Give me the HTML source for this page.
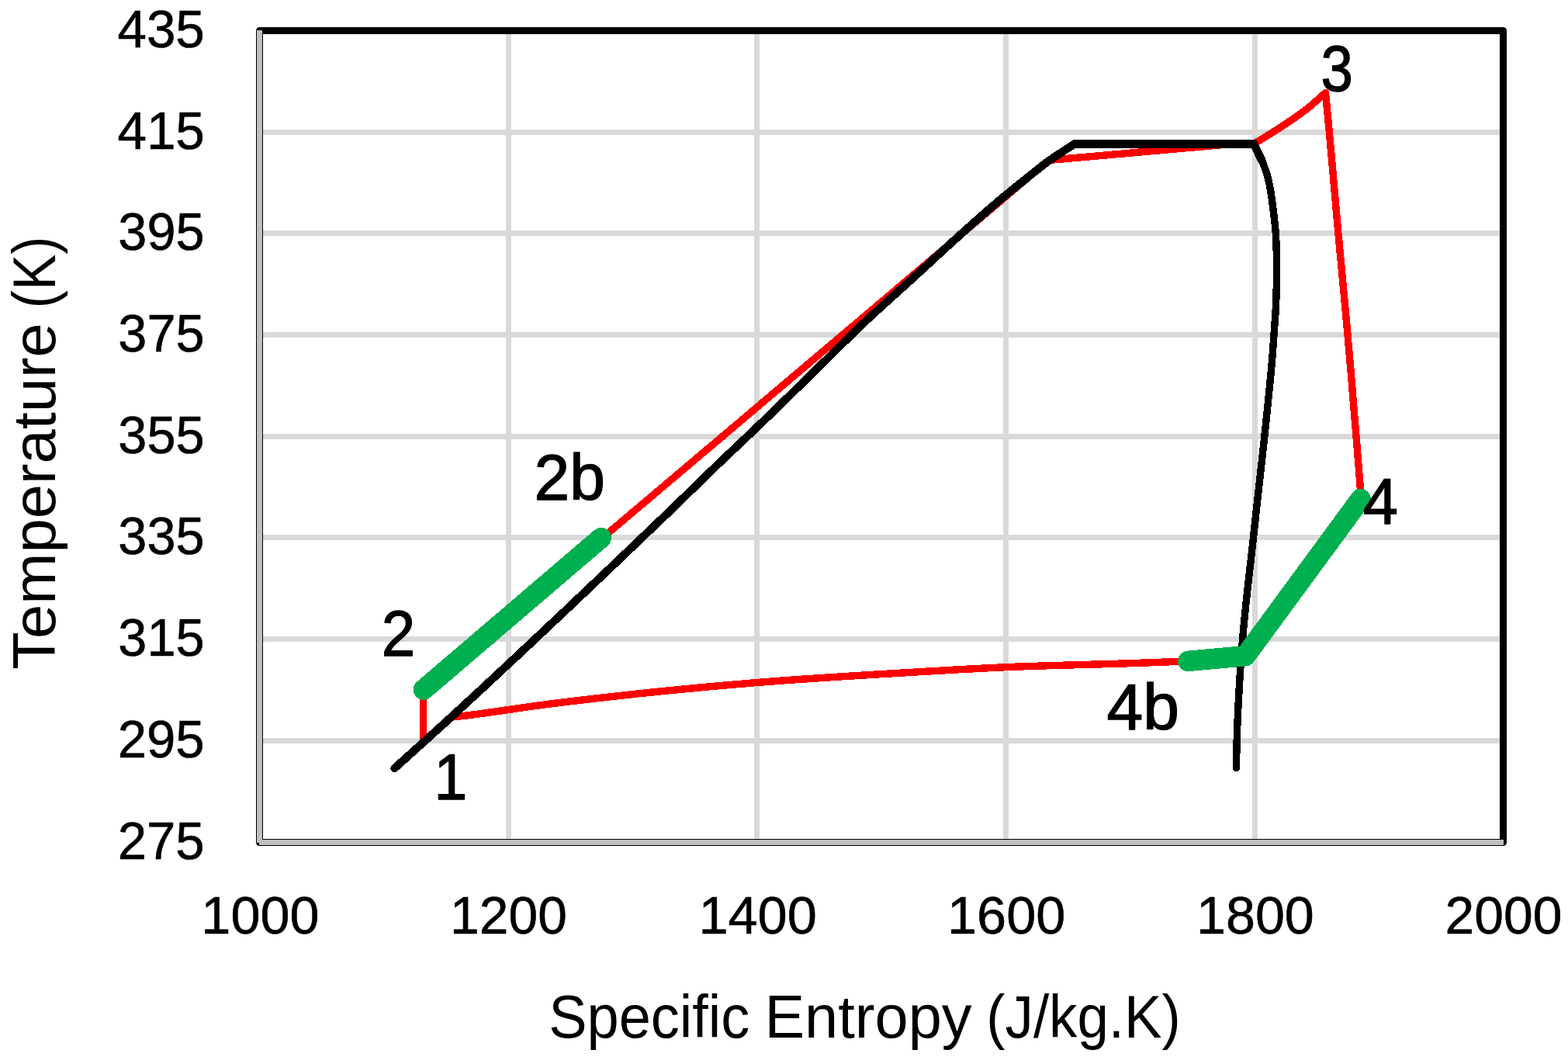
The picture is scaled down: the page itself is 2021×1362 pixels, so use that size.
<!DOCTYPE html>
<html lang="en">
<head>
<meta charset="utf-8">
<title>Temperature vs Specific Entropy</title>
<style>
  html, body { margin: 0; padding: 0; background: #ffffff; }
  body { width: 2021px; height: 1362px; overflow: hidden; }
  svg { display: block; }
  text { font-family: "Liberation Sans", Arial, Helvetica, sans-serif; fill: #000000; }
  .tick { font-size: 68px; stroke: #000000; stroke-width: 0.6px; stroke-linejoin: round; }
  .pt { font-size: 84.2px; stroke: #000000; stroke-width: 1.4px; stroke-linejoin: round; }
  .axis { font-size: 77px; }
</style>
</head>
<body>
<svg width="2021" height="1362" viewBox="0 0 2021 1362">
  <rect x="0" y="0" width="2021" height="1362" fill="#ffffff"/>

  <g id="chart">
  <!-- gridlines -->
  <g fill="#d9d9d9" shape-rendering="crispEdges">
    <rect x="652" y="44" width="7" height="1037"/>
    <rect x="972" y="44" width="7" height="1037"/>
    <rect x="1293" y="44" width="7" height="1037"/>
    <rect x="1614" y="44" width="7" height="1037"/>
    <rect x="339" y="167" width="1594" height="7"/>
    <rect x="339" y="297" width="1594" height="7"/>
    <rect x="339" y="428" width="1594" height="7"/>
    <rect x="339" y="559" width="1594" height="7"/>
    <rect x="339" y="689" width="1594" height="7"/>
    <rect x="339" y="820" width="1594" height="7"/>
    <rect x="339" y="951" width="1594" height="7"/>
  </g>

  <!-- plot area border -->
  <rect x="334.5" y="39.5" width="1603.0" height="1046.0" fill="none" stroke="#000000" stroke-width="9" stroke-linejoin="round"/>

  <!-- axis lines -->
  <g fill="#bfbfbf" shape-rendering="crispEdges">
    <rect x="331" y="39" width="7" height="1047"/>
    <rect x="334" y="1082" width="1604" height="7"/>
  </g>

  <!-- cycle (red) -->
  <path d="M545.5,956.4 L545.5,888.6 L774.7,694.6 L1104.3,416 L1351.5,206.5 L1588,185.5 L1616,185.5 C1622.2,181.7 1628.5,177.9 1634.7,174 C1643,168.8 1651.3,163.7 1659.4,158.2 C1667.8,152.5 1676.1,146.8 1684.1,140.6 C1692.6,134 1700.4,126.5 1708.5,119.5 C1710.1,136.3 1711.7,153.2 1713.3,170 C1717.4,213.6 1720.9,257.2 1724.9,300.8 C1728.5,340.5 1732.5,380.3 1736,420 C1740.2,467.3 1744.1,514.7 1748,562 C1750.1,588.3 1752.2,614.7 1754.3,641 L1605.2,845.2 L1531.4,851.9 C1507.6,852.8 1483.8,853.7 1460,854.6 C1405.5,856.5 1351,857.3 1296.6,859.7 C1251,861.7 1205.5,864.5 1160,867.2 C1098.6,870.9 1037.1,874.5 975.8,879.5 C937.2,882.6 898.6,886.1 860,890 C809.4,895.1 758.9,900.7 708.4,907.1 C670.2,911.9 632.3,918.5 594,922.8 C589.7,923.3 585.5,923.7 581.2,924.2 L545.5,956.4" shape-rendering="crispEdges" fill="none" stroke="#ff0000" stroke-width="9.4" stroke-linejoin="round" stroke-linecap="round"/>

  <!-- saturation curve (black) -->
  <g shape-rendering="crispEdges" fill="none" stroke="#000000" stroke-linejoin="miter" stroke-linecap="round">
    <path d="M508.5,990 C530.7,970 552.9,950.1 575,930 C607.6,900.3 639.9,870.1 672.1,840 C709.3,805.2 746.4,770.1 783.3,735 C809.5,710.1 835.7,685.1 861.8,660 C885.9,636.8 909.8,613.1 934,590 C946.6,578 959.4,566.1 972,554 C1001,526.3 1029.6,498.1 1058.3,470 C1076.7,452 1094.7,433.7 1113.4,416 C1133.5,396.9 1154.4,378.7 1174.9,360 C1200.5,336.7 1225.7,312.9 1251.7,290 C1266.5,276.9 1281.2,263.7 1296.5,251.2 C1301.3,247.3 1306.2,243.4 1311,239.5 C1319.1,233 1327.2,226.5 1335.3,220 C1338.4,217.6 1341.4,215.1 1344.5,212.7 C1357.3,202.8 1371.3,194.6 1384.7,185.5 L1616,185.5 C1619.5,192.6 1623.3,199.6 1626.4,206.9 C1629.1,213.3 1631.6,219.7 1633.5,226.4 C1635,231.5 1636,236.8 1637,242 C1638.8,251.3 1639.8,260.6 1641,270 C1642.3,280.2 1643.5,290.4 1644.3,300.6 C1645.1,312 1645.3,323.5 1645.5,335 C1645.6,341.7 1645.7,348.3 1645.6,355 C1645.5,363.3 1645.3,371.7 1645,380 C1644.8,385.4 1644.7,390.7 1644.4,396.1 C1644.1,403 1643.5,409.8 1643,416.7 C1642.2,427.8 1641.5,438.9 1640.7,450 C1637.9,487 1633.8,523.9 1630,560.8 C1625.4,605.6 1620,650.3 1615.2,695 C1610.7,736.9 1605.3,778.8 1601.8,820.8 C1599.6,847.2 1597.9,873.6 1596.5,900 C1595.4,920 1594.5,940 1594,960 C1593.8,969.8 1593.7,979.7 1593.5,989.5" stroke-width="9.4"/>
    <path d="M508.5,990 C530.7,970 552.9,950.1 575,930 C607.6,900.3 639.9,870.1 672.1,840 C709.3,805.2 746.4,770.1 783.3,735 C809.5,710.1 835.7,685.1 861.8,660 C885.9,636.8 909.8,613.1 934,590 C946.6,578 959.4,566.1 972,554 C1001,526.3 1029.6,498.1 1058.3,470 C1076.7,452 1094.7,433.7 1113.4,416 C1133.5,396.9 1154.4,378.7 1174.9,360 C1200.5,336.7 1225.7,312.9 1251.7,290 C1266.5,276.9 1281.2,263.7 1296.5,251.2 C1301.3,247.3 1306.2,243.4 1311,239.5 C1319.1,233 1327.2,226.5 1335.3,220 C1338.4,217.6 1341.4,215.1 1344.5,212.7 C1357.3,202.8 1371.3,194.6 1384.7,185.5 L1616,185.5 C1619.5,192.6 1622.9,199.8 1626.4,206.9" stroke-width="10.4"/>
  </g>

  <!-- recuperator segments (green) -->
  <g shape-rendering="crispEdges" fill="none" stroke="#00b050" stroke-width="26.5" stroke-linejoin="round" stroke-linecap="round">
    <path d="M546,888.6 L774.7,693.1"/>
    <path d="M1531.4,851.9 L1605.2,845.2 L1753.6,643.2"/>
  </g>

  </g>

  <!-- y tick labels -->
  <g class="tick">
    <text class="tick" x="151.40" y="60.5" textLength="112.47" lengthAdjust="spacingAndGlyphs">435</text>
    <text class="tick" x="151.40" y="191.5" textLength="112.47" lengthAdjust="spacingAndGlyphs">415</text>
    <text class="tick" x="152.37" y="321.5" textLength="111.09" lengthAdjust="spacingAndGlyphs">395</text>
    <text class="tick" x="152.37" y="452.5" textLength="111.09" lengthAdjust="spacingAndGlyphs">375</text>
    <text class="tick" x="152.37" y="583.5" textLength="111.09" lengthAdjust="spacingAndGlyphs">355</text>
    <text class="tick" x="152.37" y="713.5" textLength="111.09" lengthAdjust="spacingAndGlyphs">335</text>
    <text class="tick" x="152.37" y="844.5" textLength="111.09" lengthAdjust="spacingAndGlyphs">315</text>
    <text class="tick" x="151.67" y="975.5" textLength="111.93" lengthAdjust="spacingAndGlyphs">295</text>
    <text class="tick" x="151.67" y="1106.5" textLength="111.93" lengthAdjust="spacingAndGlyphs">275</text>
  </g>

  <!-- x tick labels -->
  <g class="tick">
    <text class="tick" x="259.37" y="1203.2" textLength="152.20" lengthAdjust="spacingAndGlyphs">1000</text>
    <text class="tick" x="580.11" y="1203.2" textLength="150.76" lengthAdjust="spacingAndGlyphs">1200</text>
    <text class="tick" x="900.38" y="1203.2" textLength="152.43" lengthAdjust="spacingAndGlyphs">1400</text>
    <text class="tick" x="1221.09" y="1203.2" textLength="152.18" lengthAdjust="spacingAndGlyphs">1600</text>
    <text class="tick" x="1541.97" y="1203.2" textLength="151.87" lengthAdjust="spacingAndGlyphs">1800</text>
    <text class="tick" x="1862.60" y="1203.2" textLength="150.87" lengthAdjust="spacingAndGlyphs">2000</text>
  </g>

  <!-- state point labels -->
  <g class="pt">
    <text class="pt" x="559.60" y="1030.3" textLength="42.74" lengthAdjust="spacingAndGlyphs">1</text>
    <text class="pt" x="491.65" y="845.3" textLength="43.48" lengthAdjust="spacingAndGlyphs">2</text>
    <text class="pt" x="688.56" y="644.3" textLength="91.34" lengthAdjust="spacingAndGlyphs">2b</text>
    <text class="pt" x="1702.53" y="116.5" textLength="41.36" lengthAdjust="spacingAndGlyphs">3</text>
    <text class="pt" x="1756.63" y="675.3" textLength="45.19" lengthAdjust="spacingAndGlyphs">4</text>
    <text class="pt" x="1426.57" y="940.3" textLength="93.35" lengthAdjust="spacingAndGlyphs">4b</text>
  </g>

  <!-- axis titles -->
  <text class="axis" y="1337"><tspan x="707.16" textLength="259.05" lengthAdjust="spacingAndGlyphs">Specific</tspan> <tspan x="985.40" textLength="267.19" lengthAdjust="spacingAndGlyphs">Entropy</tspan> <tspan x="1271.35" textLength="250.41" lengthAdjust="spacingAndGlyphs">(J/kg.K)</tspan></text>
  <text class="axis" transform="translate(70.6,0) rotate(-90)" y="0"><tspan x="-862.77" textLength="446.53" lengthAdjust="spacingAndGlyphs">Temperature</tspan> <tspan x="-397.19" textLength="92.46" lengthAdjust="spacingAndGlyphs">(K)</tspan></text>
</svg>
</body>
</html>
